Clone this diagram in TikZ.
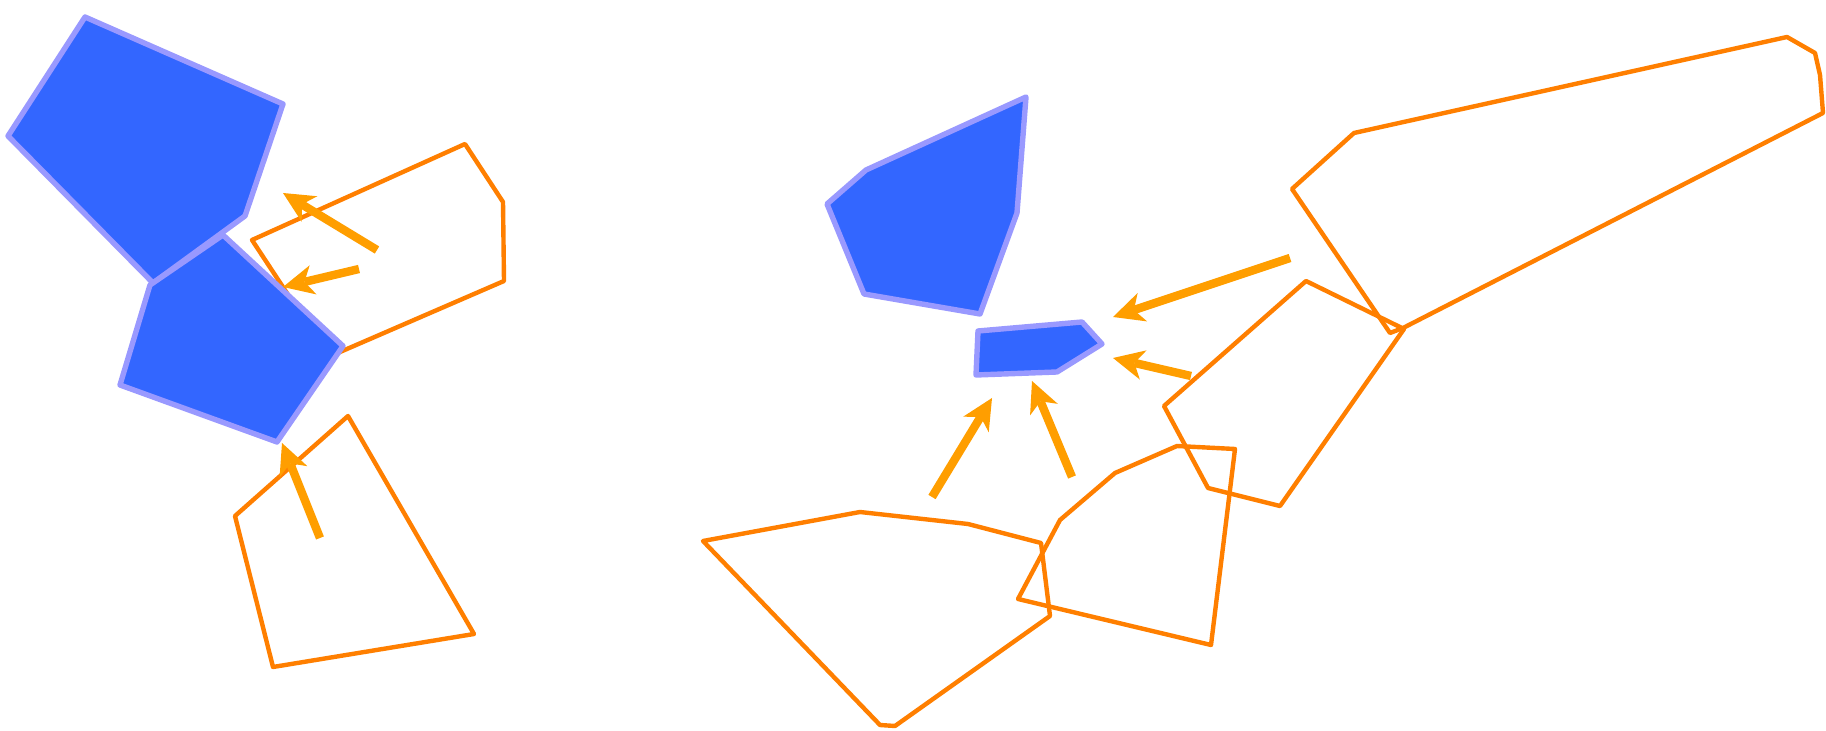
\documentclass[tikz,border=0pt]{standalone}
\usetikzlibrary{arrows.meta}
\definecolor{bluefill}{HTML}{3366FF}
\definecolor{blueline}{HTML}{9999FF}
\definecolor{orangeline}{HTML}{FF7F00}
\definecolor{arrowcol}{HTML}{FF9E00}
\begin{document}
\begin{tikzpicture}[x=0.5pt,y=-0.5pt,
  region/.style={draw=orangeline, line width=2.2pt, line join=round},
  obstacle/.style={fill=bluefill, draw=blueline, line width=2.7pt, line join=round},
  push/.style={draw=arrowcol, line width=4.2pt,
    -{Stealth[length=15.5pt,width=15pt,inset=4.5pt,line width=0pt]}}]
\useasboundingbox (0,0) rectangle (1826,731);
% orange regions
\draw[region] (252,240) -- (465,144) -- (503,202) -- (504,281) -- (340,352) -- (329,357) -- cycle;
\draw[region] (348,416) -- (474,634) -- (273,667) -- (235,516) -- cycle;
\draw[region] (703,541) -- (860,512) -- (968,524) -- (1041,543) -- (1050,616) -- (895,726) -- (880,725) -- cycle;
\draw[region] (1018,599) -- (1060,520) -- (1115,473) -- (1177,446) -- (1235,449) -- (1211,645) -- cycle;
\draw[region] (1164,406) -- (1306,281) -- (1404,329) -- (1280,506) -- (1208,488) -- cycle;
\draw[region] (1354,133) -- (1787,37) -- (1815,53) -- (1820,75) -- (1823,113) -- (1403,328) -- (1390,333) -- (1292,189) -- cycle;
% blue obstacles
\draw[obstacle] (85,17) -- (283,104) -- (245,216) -- (153,283) -- (8,136) -- cycle;
\draw[obstacle] (150,285) -- (223,235) -- (343,346) -- (277,442) -- (120,385) -- cycle;
\draw[obstacle] (1026,97) -- (1017,213) -- (980,314) -- (864,294) -- (827,204) -- (866,170) -- cycle;
\draw[obstacle] (978,331) -- (1082,322) -- (1102,344) -- (1057,372) -- (976,375) -- cycle;
% arrow end points
\coordinate (t1) at (377,250); \coordinate (h1) at (283,193);
\coordinate (t2) at (359,269); \coordinate (h2) at (283,287);
\coordinate (t3) at (320,538); \coordinate (h3) at (282,443);
\coordinate (t4) at (1290,258); \coordinate (h4) at (1113,317);
\coordinate (t5) at (1191,376); \coordinate (h5) at (1113,358);
\coordinate (t6) at (932,497); \coordinate (h6) at (992,398);
\coordinate (t7) at (1072,477); \coordinate (h7) at (1032,381);
\draw[push] (t1) -- (h1);
\draw[push] (t2) -- (h2);
\draw[push] (t3) -- (h3);
\draw[push] (t4) -- (h4);
\draw[push] (t5) -- (h5);
\draw[push] (t6) -- (h6);
\draw[push] (t7) -- (h7);
\end{tikzpicture}
\end{document}
